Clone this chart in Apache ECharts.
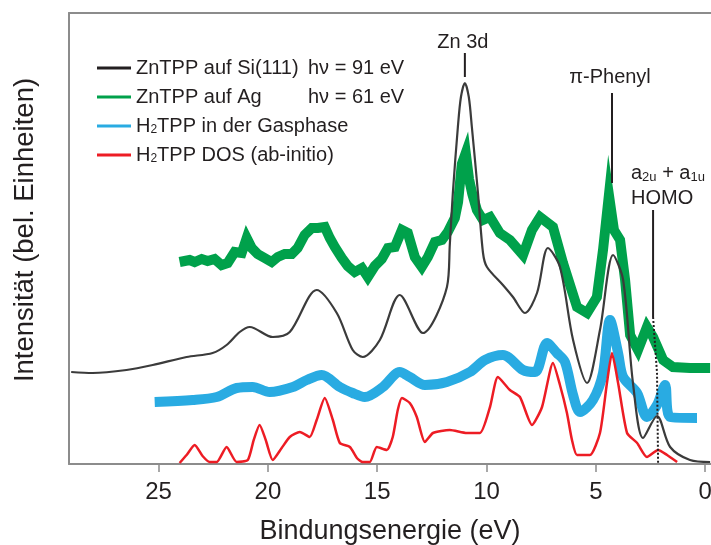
<!DOCTYPE html>
<html><head><meta charset="utf-8">
<script src="https://cdn.jsdelivr.net/npm/echarts@6/dist/echarts.min.js"></script>
<style>html,body{margin:0;padding:0;background:#fff}#c{width:711px;height:545px}</style>
</head><body><div id="c"></div>
<script>
// x tick values (binding energy, eV)
const xTicks = [0, 5, 10, 15, 20, 25];
// series: [binding energy (eV), intensity (arb. units)]
const znSi = [[29.00,92],[28.02,91],[26.47,94],[25.27,99],[23.72,107],[22.53,111],[21.89,119],[21.29,132],[20.83,137],[19.78,127],[19.00,132],[17.77,174],[16.85,151],[16.12,114],[15.66,107],[14.88,124],[13.97,169],[12.91,131],[11.81,177],[11.68,219],[11.54,271],[11.31,337],[11.17,367],[10.99,381],[10.81,367],[10.67,337],[10.39,271],[10.16,211],[9.98,197],[9.25,179],[8.79,167],[8.24,151],[7.69,171],[7.19,216],[6.64,197],[6.04,124],[5.40,81],[4.81,134],[4.21,209],[3.75,184],[3.30,81],[2.84,26],[2.20,48],[1.60,17],[0.69,4],[-0.23,2]];
const znAg = [[24.04,202],[23.81,203],[23.58,204],[23.35,202],[23.03,205],[22.76,203],[22.44,205],[22.12,199],[21.84,201],[21.52,212],[21.20,211],[20.97,226],[20.74,216],[20.47,210],[20.15,206],[19.83,202],[19.55,207],[19.23,210],[18.91,210],[18.64,216],[18.32,229],[17.99,236],[17.72,236],[17.40,237],[17.17,226],[16.94,217],[16.62,206],[16.35,198],[16.03,192],[15.70,196],[15.43,187],[15.11,198],[14.79,205],[14.51,216],[14.19,217],[13.87,234],[13.60,231],[13.28,207],[12.96,197],[12.68,207],[12.36,222],[12.04,224],[11.77,232],[11.45,246],[11.30,262],[11.13,300],[10.95,311],[10.80,285],[10.65,270],[10.44,254],[10.16,244],[9.84,247],[9.39,231],[8.93,224],[8.33,209],[7.92,234],[7.55,247],[6.96,237],[6.50,201],[5.86,157],[5.40,151],[4.95,167],[4.67,214],[4.40,269],[4.17,234],[3.89,224],[3.66,184],[3.43,129],[3.07,114],[2.66,137],[2.38,127],[1.92,104],[1.47,97],[0.69,96],[-0.23,96]];
const h2Gas = [[25.18,62],[23.44,64],[22.34,67],[21.43,76],[20.70,77],[19.92,72],[18.86,77],[18.22,84],[17.54,89],[16.71,77],[16.12,71],[15.57,67],[14.74,77],[13.97,92],[13.51,87],[12.82,79],[11.81,82],[10.76,92],[10.07,104],[9.25,109],[8.33,94],[7.78,92],[7.23,121],[6.78,111],[6.41,102],[6.04,69],[5.72,52],[5.13,64],[4.67,91],[4.35,144],[3.98,111],[3.75,87],[3.11,71],[2.66,47],[2.20,59],[1.83,79],[1.60,47],[0.37,46]];
const h2Dos = [[24.04,1],[23.72,9],[23.35,19],[22.99,8],[22.66,2],[22.34,2],[21.89,17],[21.43,2],[20.92,4],[20.65,24],[20.38,39],[20.10,24],[19.78,4],[19.37,16],[19.00,27],[18.54,32],[18.09,27],[17.77,44],[17.40,66],[17.03,44],[16.71,21],[16.25,17],[15.93,6],[15.66,2],[15.34,2],[15.02,17],[14.56,14],[14.29,27],[14.06,54],[13.87,66],[13.51,61],[13.19,47],[12.82,22],[12.45,31],[11.68,34],[10.90,31],[10.30,31],[9.84,57],[9.48,87],[8.93,74],[8.47,67],[7.92,39],[7.46,57],[6.96,101],[6.64,79],[6.32,51],[6.09,24],[5.86,9],[5.27,9],[4.81,31],[4.49,81],[4.26,111],[3.98,81],[3.57,31],[3.11,21],[2.66,7],[2.15,14],[1.74,9],[1.28,2]];
// annotation marker lines
const znLine = [[10.99,387],[10.99,411]];
const phenylLine = [[4.26,281],[4.26,371]];
const homoSolid = [[2.38,254],[2.38,147]];
const homoDotted = [[2.38,147],[2.20,91],[2.15,0]];
const seriesNames = ['ZnTPP auf Si(111)', 'ZnTPP auf Ag', 'H2TPP in der Gasphase', 'H2TPP DOS (ab-initio)'];

const F = '"Liberation Sans", Arial, Helvetica, sans-serif';
const TXT = '#231f20';
const AX = '#8c8c8c';
const chart = echarts.init(document.getElementById('c'), null, {width: 711, height: 545});

const legendFmt = {
  'ZnTPP auf Si(111)': '{a|ZnTPP auf Si(111)}{n|hν = 91 eV}',
  'ZnTPP auf Ag': '{a|ZnTPP auf Ag}{n|hν = 61 eV}',
  'H2TPP in der Gasphase': '{n|H}{s|2}{n|TPP in der Gasphase}',
  'H2TPP DOS (ab-initio)': '{n|H}{s|2}{n|TPP DOS (ab-initio)}'
};
const annLine = (data, type) => ({
  type: 'line', data: data, symbol: 'none', silent: true, z: 5,
  lineStyle: {color: TXT, width: 2, type: type || 'solid'}
});

chart.setOption({
  animation: false,
  backgroundColor: '#fff',
  grid: {left: 69, right: 0, top: 13, bottom: 81, containLabel: false, outerBoundsMode: 'none'},
  legend: {
    data: seriesNames, orient: 'vertical', left: 92, top: 53,
    itemWidth: 34, itemHeight: 3, itemGap: 9, icon: 'rect',
    formatter: n => legendFmt[n],
    textStyle: {fontFamily: F, fontSize: 20, color: TXT,
      rich: {
        a: {fontFamily: F, fontSize: 20, color: TXT, width: 172, lineHeight: 20},
        n: {fontFamily: F, fontSize: 20, color: TXT, lineHeight: 20},
        s: {fontFamily: F, fontSize: 12, color: TXT, lineHeight: 9, verticalAlign: 'bottom'}
      }}
  },
  xAxis: [{
    type: 'value', min: -0.27, max: 29.1, inverse: true,
    axisLine: {lineStyle: {color: AX, width: 2}},
    axisTick: {customValues: xTicks, length: 8, lineStyle: {color: AX, width: 1.5}},
    axisLabel: {customValues: xTicks, fontFamily: F, fontSize: 24, color: TXT, margin: 16},
    splitLine: {show: false},
    name: 'Bindungsenergie (eV)', nameLocation: 'middle', nameGap: 54,
    nameTextStyle: {fontFamily: F, fontSize: 27, color: TXT}
  }, {
    type: 'value', position: 'top', min: -0.27, max: 29.1, inverse: true,
    axisLine: {lineStyle: {color: AX, width: 2}},
    axisTick: {show: false}, axisLabel: {show: false}, splitLine: {show: false}
  }],
  yAxis: {
    type: 'value', min: 0, max: 451,
    axisLine: {show: true, onZero: false, lineStyle: {color: AX, width: 2}},
    axisTick: {show: false}, axisLabel: {show: false}, splitLine: {show: false}
  },
  series: [
    {name: seriesNames[1], type: 'line', data: znAg, symbol: 'none', z: 2,
      lineStyle: {color: '#00a14b', width: 10, join: 'miter'}, itemStyle: {color: '#00a14b'}},
    {name: seriesNames[2], type: 'line', data: h2Gas, symbol: 'none', smooth: 0.3, z: 2,
      lineStyle: {color: '#29abe2', width: 10}, itemStyle: {color: '#29abe2'}},
    {name: seriesNames[3], type: 'line', data: h2Dos, symbol: 'none', smooth: 0.2, z: 3,
      lineStyle: {color: '#ed1c24', width: 2.5}, itemStyle: {color: '#ed1c24'}},
    {name: seriesNames[0], type: 'line', data: znSi, symbol: 'none', smooth: 0.3, z: 4,
      lineStyle: {color: '#3b3b3b', width: 2.2}, itemStyle: {color: '#231f20'}},
    annLine(znLine), annLine(phenylLine), annLine(homoSolid), annLine(homoDotted, 'dotted')
  ]
});

const px = p => chart.convertToPixel({xAxisIndex: 0, yAxisIndex: 0}, p);
const zn = px([11.08, 422]), ph = px([4.35, 387]), a2 = px([3.39, 291]), ho = px([3.39, 266]);
const tstyle = {fontFamily: F, fontSize: 20, fill: TXT};
chart.setOption({graphic: [
  {type: 'text', x: 25, y: 230, rotation: Math.PI / 2,
    style: {text: 'Intensität (bel. Einheiten)', fontFamily: F, fontSize: 27.5, fill: TXT, align: 'center', verticalAlign: 'middle'}},
  {type: 'text', x: zn[0], y: zn[1], style: Object.assign({text: 'Zn 3d', align: 'center', verticalAlign: 'middle'}, tstyle)},
  {type: 'text', x: ph[0], y: ph[1], style: Object.assign({text: 'π-Phenyl', align: 'center', verticalAlign: 'middle'}, tstyle)},
  {type: 'text', x: a2[0], y: a2[1], style: Object.assign({text: '{n|a}{s|2u}{n| + a}{s|1u}', align: 'left', verticalAlign: 'middle',
    rich: {n: {fontFamily: F, fontSize: 20, fill: TXT, lineHeight: 22}, s: {fontFamily: F, fontSize: 13, fill: TXT, lineHeight: 10, verticalAlign: 'bottom'}}}, tstyle)},
  {type: 'text', x: ho[0], y: ho[1], style: Object.assign({text: 'HOMO', align: 'left', verticalAlign: 'middle'}, tstyle)}
]});
</script></body></html>
